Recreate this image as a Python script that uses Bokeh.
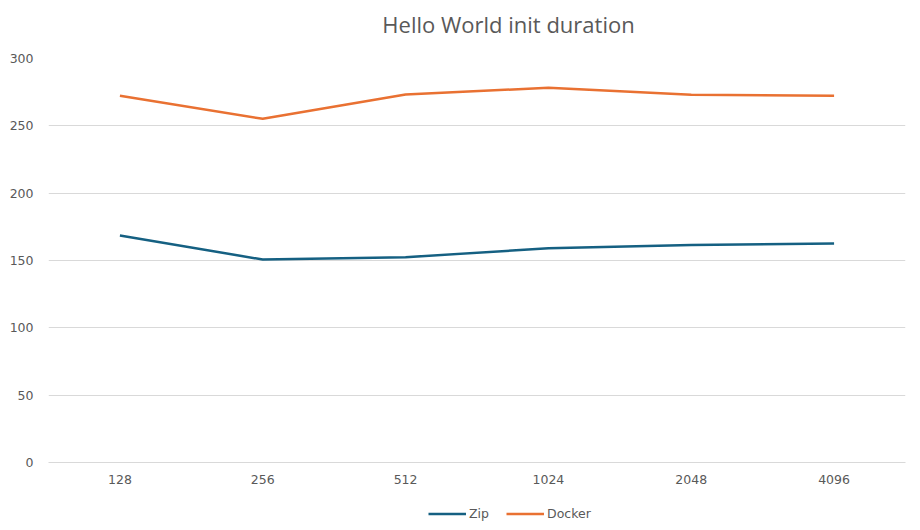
from bokeh.plotting import figure
from bokeh.models import (ColumnDataSource, FactorRange, Range1d, FixedTicker, Legend,
                          LegendItem, Label)
from bokeh.layouts import column
from bokeh.embed import file_html
from bokeh.resources import INLINE

# values (init duration, ms) per memory size
memory = ["128", "256", "512", "1024", "2048", "4096"]
zip_ms = [168.6, 150.7, 152.5, 159.1, 161.6, 162.6]
docker_ms = [272.3, 255.2, 273.3, 278.3, 273.0, 272.3]
y_ticks = [0, 50, 100, 150, 200, 250, 300]

zip_color = "#156082"
docker_color = "#E97132"
text_color = "#595959"
tick_font = "DejaVu Sans"

source = ColumnDataSource(data={"memory": memory, "zip": zip_ms, "docker": docker_ms})

# title strip
head = figure(width=912, height=50, x_range=Range1d(0, 912), y_range=Range1d(0, 50),
              output_backend="svg", toolbar_location=None, min_border=0,
              outline_line_color=None)
head.axis.visible = False
head.grid.visible = False
head.add_layout(Label(x=460, y=27, x_units="screen", y_units="screen",
                      text="Hello World init duration",
                      text_align="center", text_baseline="middle",
                      text_font="Open Sans", text_font_size="22px", text_color=text_color))

p = figure(frame_width=857, frame_height=404,
           x_range=FactorRange(*memory), y_range=Range1d(0, 300),
           output_backend="svg", toolbar_location=None,
           min_border_left=48, min_border_right=7, min_border_top=8, min_border_bottom=40)

p.line("memory", "zip", source=source, line_color=zip_color, line_width=2.5)
p.line("memory", "docker", source=source, line_color=docker_color, line_width=2.5)

p.outline_line_color = None
p.xgrid.grid_line_color = None
p.ygrid.grid_line_color = "#d9d9d9"
p.ygrid.grid_line_width = 1
p.yaxis.ticker = FixedTicker(ticks=y_ticks)

for ax in (p.xaxis[0], p.yaxis[0]):
    ax.major_tick_line_color = None
    ax.minor_tick_line_color = None
    ax.major_tick_out = 0
    ax.major_tick_in = 0
    ax.axis_label_standoff = 0
    ax.major_label_text_font = tick_font
    ax.major_label_text_font_size = "12.5px"
    ax.major_label_text_color = text_color
p.yaxis.axis_line_color = None
p.xaxis.axis_line_color = "#d9d9d9"
p.xaxis.major_label_standoff = 12
p.yaxis.major_label_standoff = 15

# legend strip below the chart; key lines sit outside the visible range
leg = figure(width=912, height=24, x_range=Range1d(0, 1), y_range=Range1d(0, 1),
             output_backend="svg", toolbar_location=None,
             min_border=0, outline_line_color=None)
leg.axis.visible = False
leg.grid.visible = False
zip_key = leg.line(x=[5, 6], y=[5, 6], line_color=zip_color, line_width=2.5)
docker_key = leg.line(x=[5, 6], y=[5, 6], line_color=docker_color, line_width=2.5)

legend = Legend(items=[LegendItem(label="Zip", renderers=[zip_key]),
                       LegendItem(label="Docker", renderers=[docker_key])],
                orientation="horizontal", location=(380, 5),
                label_text_font=tick_font,
                label_text_font_size="12.5px", label_text_color=text_color,
                glyph_width=38, glyph_height=13, label_standoff=3, spacing=17,
                padding=0, margin=0,
                border_line_color=None, background_fill_alpha=0)
leg.add_layout(legend)

layout = column(head, p, leg, spacing=0)

open("out.html", "w").write(file_html(layout, INLINE))
